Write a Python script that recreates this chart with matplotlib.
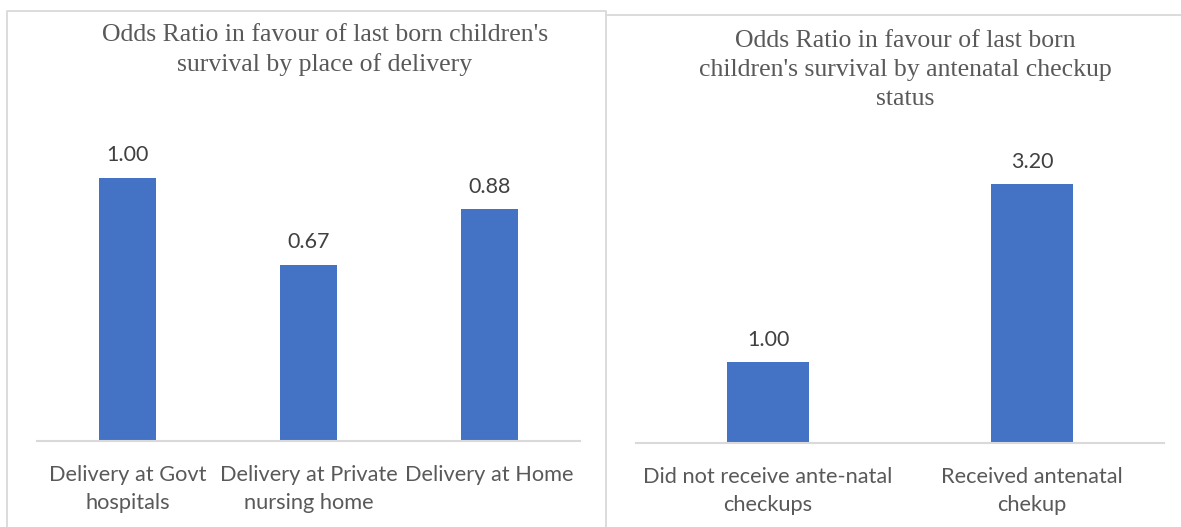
import matplotlib.pyplot as plt
from matplotlib.lines import Line2D

place_labels = ["Delivery at Govt\nhospitals", "Delivery at Private\nnursing home", "Delivery at Home"]
place_odds = [1.00, 0.67, 0.88]

anc_labels = ["Did not receive ante-natal\ncheckups", "Received antenatal\nchekup"]
anc_odds = [1.00, 3.20]

BAR = "#4472C4"
GRID = "#D9D9D9"
TXT = "#595959"
W, H = 1181, 527


def px(x0, y0, x1, y1):
    # pixel box (top-left origin) -> figure fraction [left, bottom, width, height]
    return [x0 / W, 1 - y1 / H, (x1 - x0) / W, (y1 - y0) / H]


def bar_panel(ax, labels, values, ymax):
    pos = range(len(values))
    ax.bar(pos, values, width=0.31, color=BAR, zorder=2)
    for x, v in zip(pos, values):
        ax.annotate(f"{v:.2f}", (x, v), xytext=(0, 16), textcoords="offset points",
                    ha="center", va="center", fontsize=15.5, color="#404040", family="Lato")
    ax.set_xlim(-0.5, len(values) - 0.5)
    ax.set_ylim(0, ymax)
    ax.set_xticks(list(pos))
    ax.set_xticklabels(labels, fontsize=15.7, color=TXT, family="Lato", linespacing=1.5, va="top")
    ax.tick_params(axis="x", length=0, pad=17)
    ax.set_yticks([])
    for s in ["left", "right", "top"]:
        ax.spines[s].set_visible(False)
    ax.spines["bottom"].set_color(GRID)
    ax.spines["bottom"].set_linewidth(1.5)
    ax.patch.set_alpha(0)


fig = plt.figure(figsize=(11.81, 5.27), dpi=100)

# panel borders
def fline(xs, ys):
    fig.add_artist(Line2D([x / W for x in xs], [1 - y / H for y in ys], color=GRID, lw=1.3))

fline([6.5, 6.5, 606, 606], [H, 11, 11, H])
fline([606, W], [15, 15])

ax1 = fig.add_axes(px(37, 125, 580, 441))
bar_panel(ax1, place_labels, place_odds, 1.2)

ax2 = fig.add_axes(px(636, 136, 1164, 443))
bar_panel(ax2, anc_labels, anc_odds, 3.8)

fig.text(325 / W, 1 - 50 / H, "Odds Ratio in favour of last born children's\nsurvival by place of delivery",
         ha="center", va="center", fontsize=18.5, color=TXT, family="Liberation Serif", linespacing=1.42)
fig.text(905 / W, 1 - 70 / H, "Odds Ratio in favour of last born\nchildren's survival by antenatal checkup\nstatus",
         ha="center", va="center", fontsize=18.5, color=TXT, family="Liberation Serif", linespacing=1.42)

fig.savefig("out.png", dpi=100)
